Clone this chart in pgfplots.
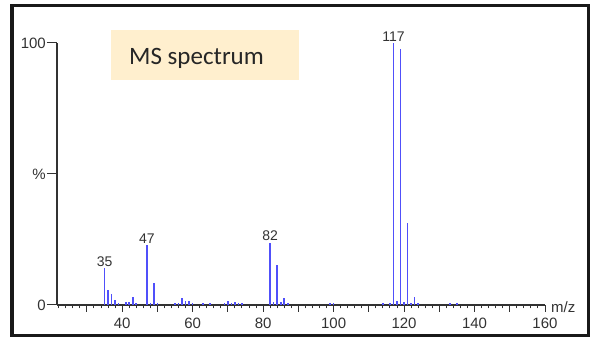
\documentclass[border=0pt]{standalone}
\usepackage{pgfplots}
\pgfplotsset{compat=1.18}
\usepackage{fontspec}
\setmainfont{Liberation Sans}
\newfontfamily\calibri{Carlito}
\definecolor{barblue}{RGB}{80,80,250}
\definecolor{axisgray}{RGB}{50,50,50}
\definecolor{boxfill}{RGB}{255,239,206}
\begin{document}
\begin{tikzpicture}
\useasboundingbox (0pt,0pt) rectangle (590pt,342pt);
\fill[boxfill] (111pt,262pt) rectangle (299pt,312pt);
\node[anchor=base west, inner sep=0pt, font=\calibri\fontsize{25}{30}\selectfont, text=black!85] at (129pt,277pt) {MS spectrum};
\begin{axis}[
  at={(57pt,37pt)}, anchor=south west,
  scale only axis, width=488pt, height=262pt,
  xmin=21.5, xmax=160, ymin=0, ymax=100,
  axis lines=left,
  axis line style={-, color=axisgray, line width=1.5pt},
  clip=false,
  tick align=outside,
  major tick length=7pt, minor tick length=3.5pt,
  tick style={color=axisgray, line width=1pt},
  xtick={30,40,...,160},
  xticklabels={,40,,60,,80,,100,,120,,140,,160},
  minor xtick={22,24,...,158},
  ytick=\empty,
  minor ytick={10,20,...,90},
  extra y ticks={0,50,100},
  extra y tick labels={0,\%,100},
  extra y tick style={major tick length=10pt, yticklabel style={inner sep=1pt}},
  /pgf/number format/assume math mode=true,
  ticklabel style={font=\fontsize{15}{18}\selectfont, text=axisgray},
  xticklabel style={yshift=-2pt},
  yticklabel style={inner sep=1pt},
]
\addplot[ycomb, color=barblue, line width=1.6pt, mark=none] coordinates {
(35,14) (36,5.7) (37,4.2) (38,1.9) (39,0.8) (41,1.3) (42,1.3) (43,3.2) (44,0.8)
(47,23) (48,0.6) (49,8.3) (50,0.8)
(55,0.7) (56,0.7) (57,2.8) (58,1.5) (59,1.7) (60,0.8)
(63,0.7) (65,0.7) (69,0.7) (70,1.5) (71,0.7) (72,1) (73,0.8) (74,0.8)
(82,23.8) (83,1) (84,15.3) (85,1) (86,2.8) (87,0.7)
(99,0.8) (100,0.8)
(114,0.7) (116,0.7) (117,100) (118,1.4) (119,97.7) (120,1) (121,31.4) (122,0.7) (123,3.2) (124,0.7)
(133,0.7) (135,0.7)
};
\addplot[draw=none, mark=none, nodes near coords, point meta=x,
  nodes near coords style={font=\fontsize{14}{16}\selectfont, text=axisgray, anchor=south, inner sep=1.5pt,
  /pgf/number format/assume math mode=true, /pgf/number format/fixed}]
  coordinates {(35,14) (47,23) (82,23.8) (117,100)};
\node[anchor=base west, inner sep=0pt, font=\fontsize{15}{18}\selectfont, text=axisgray] at (axis cs:160,0) [xshift=6pt, yshift=-8pt] {m/z};
\end{axis}
\draw[line width=3.5pt, color=black!90] (11.75pt,6.5pt) rectangle (588.25pt,336.5pt);
\end{tikzpicture}
\end{document}
